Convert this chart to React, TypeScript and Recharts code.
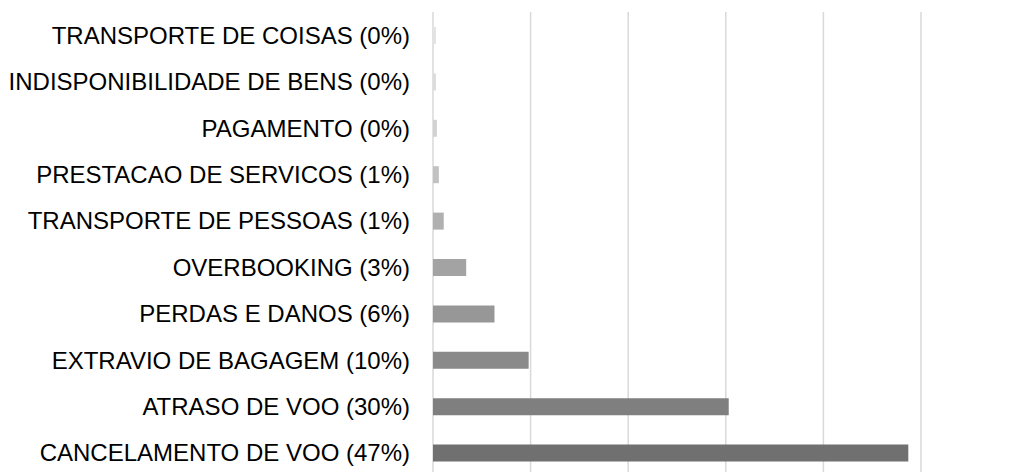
import { Bar, BarChart, CartesianGrid, Cell, XAxis, YAxis } from 'recharts';

// categorias de cima para baixo, como no gráfico original
const CATEGORIAS = [
  'TRANSPORTE DE COISAS (0%)',
  'INDISPONIBILIDADE DE BENS (0%)',
  'PAGAMENTO (0%)',
  'PRESTACAO DE SERVICOS (1%)',
  'TRANSPORTE DE PESSOAS (1%)',
  'OVERBOOKING (3%)',
  'PERDAS E DANOS (6%)',
  'EXTRAVIO DE BAGAGEM (10%)',
  'ATRASO DE VOO (30%)',
  'CANCELAMENTO DE VOO (47%)',
];

const QUANTIDADES = [3, 3, 4, 6, 11, 34, 63, 98, 303, 487];

const TICKS_X = [0, 100, 200, 300, 400, 500];

// tons de cinza, do mais claro (menor) ao mais escuro (maior)
const TONS = [
  '#e2e2e2',
  '#dcdcdc',
  '#d2d2d2',
  '#c2c2c2',
  '#b0b0b0',
  '#a3a3a3',
  '#979797',
  '#8a8a8a',
  '#7f7f7f',
  '#707070',
];

const dados = CATEGORIAS.map((nome, i) => ({ nome, valor: QUANTIDADES[i] }));

// o eixo X não mostra rótulos, mas as marcas continuam existindo para a grade
const SemRotulo = () => <g />;

export default function App() {
  return (
    <div
      style={{
        position: 'absolute',
        left: 0,
        top: 0,
        width: 1014,
        height: 472,
        overflow: 'hidden',
        background: '#ffffff',
      }}
    >
      <BarChart
        width={1014}
        height={480}
        data={dados}
        layout="vertical"
        margin={{ top: 12, right: 93, bottom: 4, left: 0 }}
      >
        <CartesianGrid horizontal={false} stroke="#d9d9d9" strokeWidth={1.5} />
        <XAxis
          type="number"
          domain={[0, 500]}
          ticks={TICKS_X}
          tick={SemRotulo}
          axisLine={false}
          tickLine={false}
          height={0}
        />
        <YAxis
          type="category"
          dataKey="nome"
          width={433}
          axisLine={false}
          tickLine={false}
          tickSize={0}
          tickMargin={23}
          interval={0}
          tick={{ fontSize: 24, fill: '#000000', fontFamily: '"Liberation Sans", Arial, sans-serif' }}
        />
        <Bar dataKey="valor" barSize={17} isAnimationActive={false}>
          {dados.map((d, i) => (
            <Cell key={d.nome} fill={TONS[i]} />
          ))}
        </Bar>
      </BarChart>
    </div>
  );
}
